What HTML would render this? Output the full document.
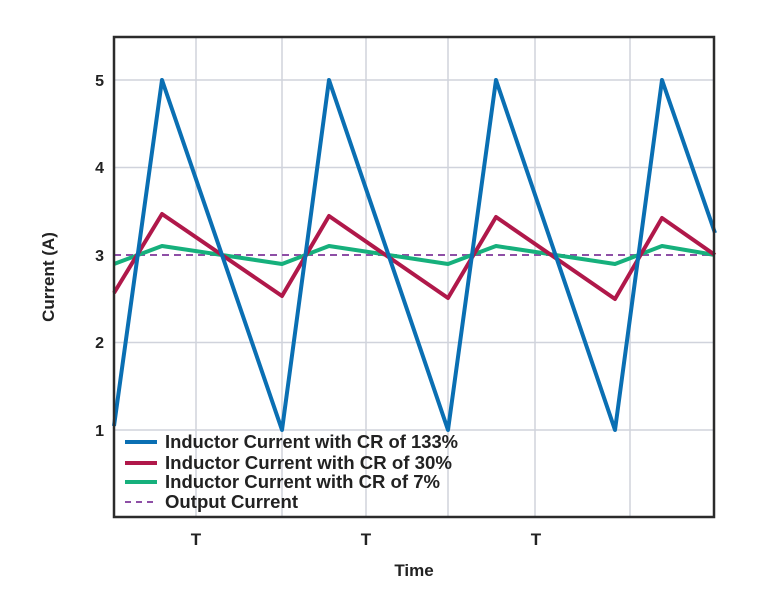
<!DOCTYPE html>
<html><head><meta charset="utf-8"><style>
html,body{margin:0;padding:0;background:#fff;}
svg{display:block;font-family:"Liberation Sans",sans-serif;}
</style></head><body>
<svg width="770" height="592" viewBox="0 0 770 592">
<rect width="770" height="592" fill="#fff"/>
<g stroke="#d0d3dc" stroke-width="1.5">
<line x1="196" y1="37" x2="196" y2="517"/><line x1="282" y1="37" x2="282" y2="517"/>
<line x1="366" y1="37" x2="366" y2="517"/><line x1="448" y1="37" x2="448" y2="517"/>
<line x1="535" y1="37" x2="535" y2="517"/><line x1="630" y1="37" x2="630" y2="517"/>
<line x1="114" y1="80" x2="714" y2="80"/><line x1="114" y1="167.5" x2="714" y2="167.5"/>
<line x1="114" y1="342.5" x2="714" y2="342.5"/><line x1="114" y1="430" x2="714" y2="430"/>
</g>
<line x1="114" y1="255" x2="714" y2="255" stroke="#8e4fa6" stroke-width="2" stroke-dasharray="7,5"/>
<polyline fill="none" stroke="#16b07c" stroke-width="4" stroke-linejoin="round" points="114,264 162,246 282,264 329,246 448,264 496,246 615,264 662,246 715,255"/>
<polyline fill="none" stroke="#b0184a" stroke-width="4" stroke-linejoin="round" points="114,293 162,214 282,296 329,216 448,298 496,217 615,299 662,218 715,255"/>
<polyline fill="none" stroke="#0a6fb3" stroke-width="4" stroke-linejoin="round" points="114,426 162,80 282,430 329,80 448,430 496,80 615,430 662,80 715,233"/>
<rect x="114" y="37" width="600" height="480" fill="none" stroke="#2b2b2b" stroke-width="2.5"/>
<g font-size="16" font-weight="bold" fill="#222" text-anchor="end">
<text x="104" y="86">5</text><text x="104" y="173">4</text><text x="104" y="261">3</text>
<text x="104" y="348">2</text><text x="104" y="436">1</text>
</g>
<g font-size="17" font-weight="bold" fill="#222" text-anchor="middle">
<text x="196" y="545">T</text><text x="366" y="545">T</text><text x="536" y="545">T</text>
<text x="414" y="576">Time</text>
<text transform="translate(54,277) rotate(-90)">Current (A)</text>
</g>
<g stroke-width="4">
<line x1="125" y1="442" x2="157" y2="442" stroke="#0a6fb3"/>
<line x1="125" y1="463" x2="157" y2="463" stroke="#b0184a"/>
<line x1="125" y1="482" x2="157" y2="482" stroke="#16b07c"/>
</g>
<line x1="125" y1="502" x2="157" y2="502" stroke="#8e4fa6" stroke-width="2" stroke-dasharray="6,5"/>
<g font-size="18" font-weight="bold" fill="#222">
<text x="165" y="448" textLength="293" lengthAdjust="spacingAndGlyphs">Inductor Current with CR of 133%</text>
<text x="165" y="469" textLength="287" lengthAdjust="spacingAndGlyphs">Inductor Current with CR of 30%</text>
<text x="165" y="488" textLength="275" lengthAdjust="spacingAndGlyphs">Inductor Current with CR of 7%</text>
<text x="165" y="508" textLength="133" lengthAdjust="spacingAndGlyphs">Output Current</text>
</g>
</svg>
</body></html>
